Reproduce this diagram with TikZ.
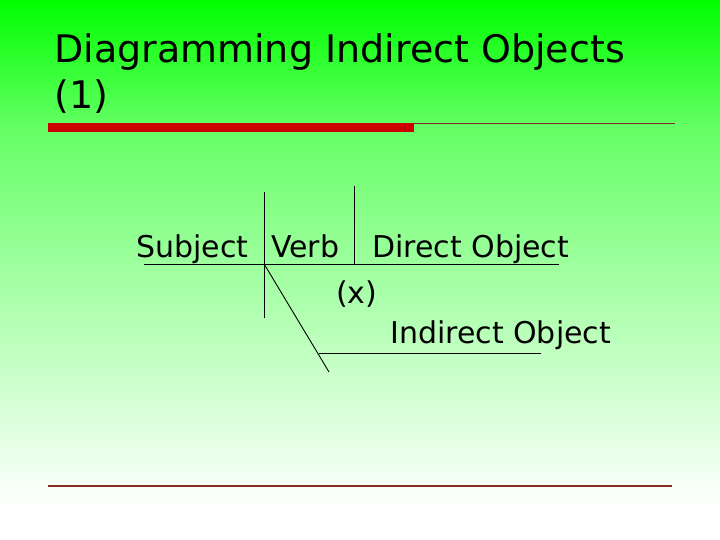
\documentclass[tikz,border=0pt]{standalone}
\usepackage{fontspec}
\setmainfont{DejaVu Sans}
\usetikzlibrary{positioning}
\definecolor{slidegreen}{HTML}{00FF00}
\definecolor{midgreen}{RGB}{102,255,102}
\definecolor{palegreen}{HTML}{A0FFA0}
\definecolor{barred}{HTML}{CC0000}
\definecolor{rulered}{HTML}{8B2A2A}
\pgfdeclareverticalshading{slidebg}{100bp}{color(0bp)=(white); color(28bp)=(white); color(50bp)=(palegreen); color(63bp)=(midgreen); color(75bp)=(slidegreen); color(100bp)=(slidegreen)}

\begin{document}
\begin{tikzpicture}[x=1pt,y=-1pt,
  word/.style={anchor=base west, inner sep=0pt, font=\fontsize{30}{36}\selectfont},
  diagline/.style={line width=0.9pt, black}]
\useasboundingbox (0,0) rectangle (720,540);
\shade[shading=slidebg] (0,0) rectangle (720,540);

% title and rules
\node[anchor=base west, inner sep=0pt, align=left, font=\fontsize{38}{46}\selectfont] (title) at (54,108.5) {Diagramming Indirect Objects\\(1)};
\fill[barred] (48,123) rectangle (414,132);
\draw[rulered, line width=1pt] (414,124) -- (675,124);
\draw[rulered, line width=1.2pt] (48,486) -- (672,486);

% sentence diagram
\coordinate (base left) at (144,264.3);
\coordinate (base right) at (559,264.3);
\coordinate (subj top) at (264.3,192);
\coordinate (subj bottom) at (264.3,318);
\coordinate (verb top) at (354,186);
\coordinate (verb foot) at (354,264.3);
\coordinate (slant top) at (264.3,264.3);
\coordinate (slant bottom) at (329,372);
\coordinate (io left) at (318.7,353.7);
\coordinate (io right) at (540.7,353.7);

\node[word] (subject) at (136,257.3) {Subject};
\node[word] (verb) at (271,257.3) {Verb};
\node[word] (dobj) at (372,257.3) {Direct Object};
\node[word] (prep) at (336,303) {(x)};
\node[word] (iobj) at (390,343.3) {Indirect Object};

\draw[diagline] (base left) -- (base right);
\draw[diagline] (subj top) -- (subj bottom);
\draw[diagline] (verb top) -- (verb foot);
\draw[diagline] (slant top) -- (slant bottom);
\draw[diagline] (io left) -- (io right);
\end{tikzpicture}
\end{document}
